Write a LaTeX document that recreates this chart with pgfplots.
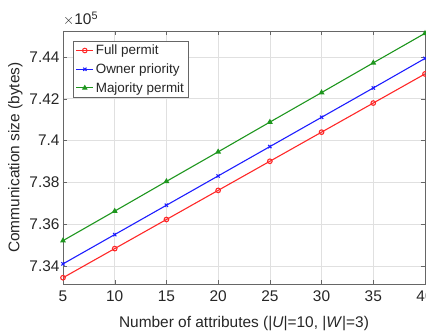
\documentclass[border=0pt]{standalone}
\usepackage{pgfplots}
\pgfplotsset{compat=1.18}
\usepackage{fontspec}
\setmainfont{Liberation Sans}
\definecolor{cred}{RGB}{255,40,40}
\definecolor{cblue}{RGB}{30,30,255}
\definecolor{cgreen}{RGB}{30,150,30}
\begin{document}
\begin{tikzpicture}
\begin{axis}[
  at={(0,0)}, anchor=south west,
  scale only axis, width=362bp, height=253bp,
  xmin=5, xmax=40, ymin=7.3315, ymax=7.4523,
  xtick={5,10,...,40},
  ytick={7.34,7.36,7.38,7.40,7.42,7.44},
  yticklabel style={/pgf/number format/fixed, /pgf/number format/precision=2},
  /pgf/number format/assume math mode=true,
  tick label style={font=\fontsize{15.5}{17}\selectfont, text=black!85},
  xticklabel style={yshift=-3bp},
  label style={font=\fontsize{15.5}{17}\selectfont, text=black!85},
  tick align=inside, major tick length=4bp,
  axis line style={black!60, line width=0.6bp},
  major tick style={black!60},
  grid=major, grid style={black!12, line width=0.5bp},
  xlabel={Number of attributes (|\textit{U}|=10, |\textit{W}|=3)},
  ylabel={Communication size (bytes)},
  xlabel style={at={(axis description cs:0.5,0)}, anchor=north, yshift=-29bp},
  ylabel style={at={(axis description cs:0,0.5)}, anchor=south, rotate=0, yshift=37bp},
  legend style={at={(axis description cs:0.029,0.962)}, anchor=north west, draw=black!60, line width=0.6bp,
    font=\fontsize{13.5}{15}\selectfont, text=black!85, inner sep=2bp, row sep=3.5bp,
    cells={anchor=west}},
  legend cell align=left,
  legend image post style={line width=1bp},
  every axis plot/.append style={line width=1.1bp, mark size=2.3bp},
]
\addplot[cred, mark=o] coordinates {(5,7.3345) (10,7.3484) (15,7.3623) (20,7.3762) (25,7.3901) (30,7.4040) (35,7.4179) (40,7.4318)};
\addlegendentry{Full permit}
\addplot[cblue, mark=x] coordinates {(5,7.3411) (10,7.3551) (15,7.3691) (20,7.3831) (25,7.3971) (30,7.4111) (35,7.4251) (40,7.4392)};
\addlegendentry{Owner priority}
\addplot[cgreen, mark=triangle*] coordinates {(5,7.3522) (10,7.3663) (15,7.3805) (20,7.3946) (25,7.4088) (30,7.4229) (35,7.4371) (40,7.4512)};
\addlegendentry{Majority permit}
\end{axis}
\node[anchor=south west, inner sep=0pt, text=black!85, font=\fontsize{15.5}{17}\selectfont] at (0bp,5bp+253bp) {$\times$10\textsuperscript{5}};
\pgfresetboundingbox
\path[use as bounding box] (-63bp,-52bp) rectangle (363bp,284bp);
\end{tikzpicture}
\end{document}
